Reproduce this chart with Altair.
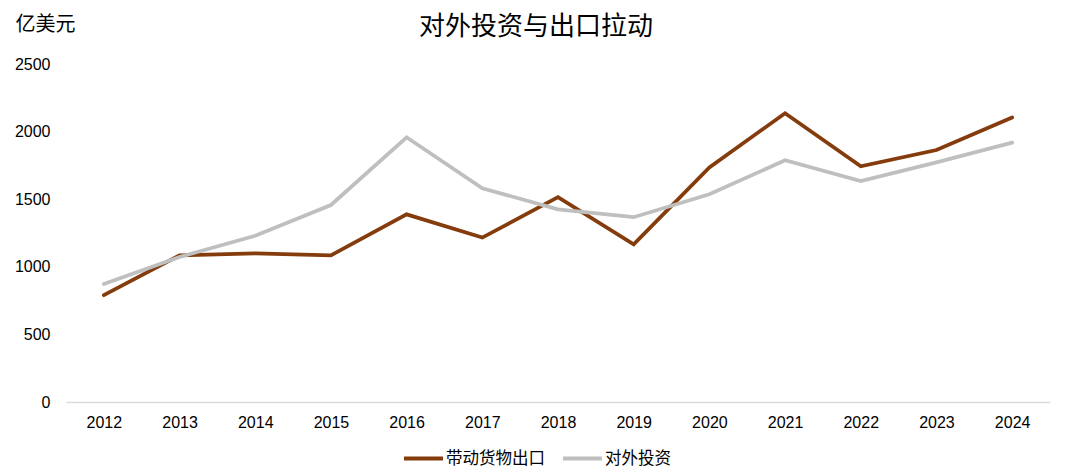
import altair as alt
import pandas as pd

years = ["2012", "2013", "2014", "2015", "2016", "2017", "2018", "2019",
         "2020", "2021", "2022", "2023", "2024"]
export_vals = [790, 1085, 1100, 1085, 1388, 1216, 1515, 1166, 1735, 2136, 1744, 1864, 2105]
invest_vals = [873, 1073, 1230, 1457, 1958, 1581, 1425, 1367, 1537, 1788, 1635, 1772, 1918]
series_names = ["带动货物出口", "对外投资"]
colors = ["#843C0C", "#BFBFBF"]

rows = []
for name, vals in zip(series_names, [export_vals, invest_vals]):
    for y, v in zip(years, vals):
        rows.append({"年份": y, "数值": v, "系列": name})
df = pd.DataFrame(rows)

FONT = "Liberation Sans, Arial, 'Noto Sans CJK SC', sans-serif"
CJK = "'Noto Sans CJK SC', 'Liberation Sans', sans-serif"

chart = alt.Chart(df).mark_line(strokeWidth=3.75, strokeCap="round").encode(
    x=alt.X("年份:O", sort=years, title=None,
            axis=alt.Axis(labelAngle=0, tickSize=0, labelPadding=12,
                          domainColor="#D9D9D9", domainWidth=1.5,
                          labelFontSize=16, labelFont=FONT, labelColor="#000")),
    y=alt.Y("数值:Q", scale=alt.Scale(domain=[0, 2500], nice=False),
            title="亿美元",
            axis=alt.Axis(values=[0, 500, 1000, 1500, 2000, 2500], grid=False,
                          format="d",
                          domain=False, tickSize=0, labelPadding=16,
                          labelFontSize=16, labelFont=FONT, labelColor="#000",
                          titleAngle=0, titleAlign="left", titleBaseline="middle",
                          titleX=-51, titleY=-40, titleFontSize=20,
                          titleFontWeight="normal", titleFont=CJK, titleColor="#000")),
    color=alt.Color("系列:N", sort=series_names,
                    scale=alt.Scale(domain=series_names, range=colors),
                    legend=alt.Legend(title=None, orient="none", direction="horizontal",
                                      legendX=336, legendY=373,
                                      symbolType="stroke", symbolSize=1521,
                                      symbolStrokeWidth=4, labelOffset=1,
                                      columnPadding=10, labelFontSize=16.5,
                                      labelFont=CJK, labelColor="#000")),
    order=alt.Order("系列:N"),
).properties(
    width=984, height=338,
    title=alt.TitleParams("对外投资与出口拉动", fontSize=26, font=CJK,
                          fontWeight="normal", color="#000", dx=-22, offset=-26),
    autosize=alt.AutoSizeParams(type="none"),
    padding={"left": 58, "top": 56, "right": 4, "bottom": 66},
).configure_view(stroke=None)

chart.save("out.html", embed_options={"renderer": "svg", "actions": False})
